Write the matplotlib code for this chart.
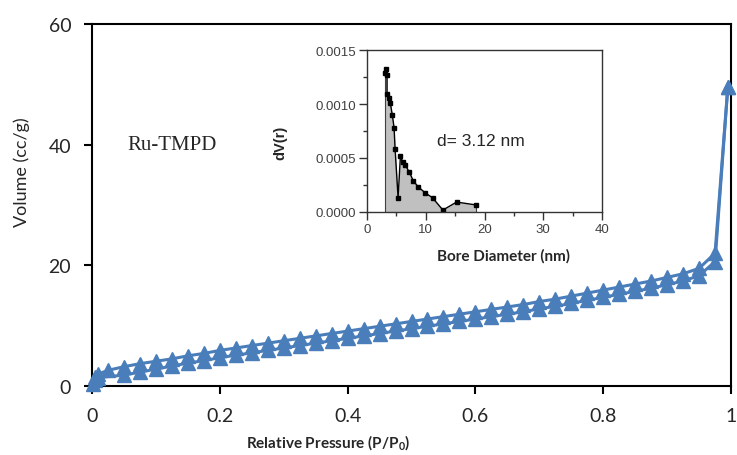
import matplotlib
matplotlib.use('Agg')
import matplotlib.pyplot as plt
from matplotlib.ticker import MultipleLocator

# ==== DATA ====

# isotherm, adsorption branch
p_ads = [0.001, 0.005, 0.01, 0.05, 0.075, 0.1, 0.125, 0.15, 0.175, 0.2,
         0.225, 0.25, 0.275, 0.3, 0.325, 0.35, 0.375, 0.4, 0.425, 0.45,
         0.475, 0.5, 0.525, 0.55, 0.575, 0.6, 0.625, 0.65, 0.675, 0.7,
         0.725, 0.75, 0.775, 0.8, 0.825, 0.85, 0.875, 0.9, 0.925, 0.95,
         0.975, 0.995]
v_ads = [0.3, 1.0, 1.4, 1.8, 2.3, 2.8, 3.3, 3.8, 4.2, 4.7,
         5.1, 5.5, 5.9, 6.3, 6.7, 7.1, 7.5, 7.9, 8.3, 8.7,
         9.1, 9.5, 9.9, 10.3, 10.7, 11.1, 11.5, 11.9, 12.3, 12.8,
         13.2, 13.7, 14.2, 14.7, 15.2, 15.7, 16.2, 16.8, 17.4, 18.3,
         20.6, 49.5]

# isotherm, desorption branch
p_des = [0.995, 0.975, 0.95, 0.925, 0.9, 0.875, 0.85, 0.825, 0.8, 0.775,
         0.75, 0.725, 0.7, 0.675, 0.65, 0.625, 0.6, 0.575, 0.55, 0.525,
         0.5, 0.475, 0.45, 0.425, 0.4, 0.375, 0.35, 0.325, 0.3, 0.275,
         0.25, 0.225, 0.2, 0.175, 0.15, 0.125, 0.1, 0.075, 0.05, 0.025,
         0.01, 0.005]
v_des = [49.5, 22.0, 19.5, 18.6, 18.0, 17.4, 16.9, 16.4, 15.9, 15.4,
         14.9, 14.4, 14.0, 13.5, 13.1, 12.7, 12.3, 11.9, 11.5, 11.1,
         10.7, 10.3, 9.9, 9.5, 9.1, 8.7, 8.3, 7.9, 7.5, 7.1,
         6.7, 6.3, 5.9, 5.4, 5.0, 4.5, 4.1, 3.7, 3.2, 2.6,
         2.0, 1.5]

# pore size distribution (inset)
d_nm = [3.07, 3.18, 3.41, 3.41, 3.75, 3.98, 4.32, 4.61, 4.78, 5.29,
        5.69, 6.09, 6.54, 7.23, 7.91, 8.76, 9.90, 11.15, 12.92, 15.25, 18.6]
dv = [0.001285, 0.00132, 0.00127, 0.001097, 0.00106, 0.001005, 0.000894,
      0.00078, 0.000587, 0.000132, 0.00052, 0.00046, 0.000433, 0.000366,
      0.000286, 0.00023, 0.000178, 0.000132, 0.000018, 0.000092, 0.000065]

blue = '#4a7ebb'
tick_col = '#262626'

# ==== PLOT ====

fig = plt.figure(figsize=(7.37, 4.56), dpi=100)
ax = fig.add_axes([92/737, 69/456, 639/737, 362/456])

ax.plot(p_ads, v_ads, color=blue, lw=2.2, marker='^', ms=9.5, clip_on=False, zorder=3)
ax.plot(p_des, v_des, color=blue, lw=2.2, marker='^', ms=9.5, clip_on=False, zorder=3)

ax.set_xlim(0, 1)
ax.set_ylim(0, 60)
ax.set_xticks([0, 0.2, 0.4, 0.6, 0.8, 1])
ax.set_xticklabels(['0', '0.2', '0.4', '0.6', '0.8', '1'])
ax.set_yticks([0, 20, 40, 60])
for s in ax.spines.values():
  s.set_linewidth(1.5)
  s.set_color('black')
ax.tick_params(direction='out', length=6, width=1.5, pad=9, labelsize=14,
               labelcolor=tick_col)
for lab in ax.get_xticklabels() + ax.get_yticklabels():
  lab.set_family('Lato')

ax.set_xlabel('Relative Pressure (P/P$_\\mathregular{0}$)', fontsize=11,
              fontweight='bold', family='Lato', color=tick_col)
ax.xaxis.set_label_coords(0.37, -0.128)
ax.set_ylabel('Volume (cc/g)', fontsize=13, family='Lato', color=tick_col)
ax.yaxis.set_label_coords(-0.097, 0.594)

ax.text(0.056, 40.1, 'Ru-TMPD', family='Liberation Serif', fontsize=15,
        va='center', ha='left', color=tick_col)

# inset
ins = fig.add_axes([367/737, 243/456, 235/737, 162/456])
ins.fill_between(d_nm, dv, 0, color='#c0c0c0', lw=0)
ins.vlines([d_nm[0], d_nm[-1]], 0, [dv[0], dv[-1]], color='#404040', lw=0.8)
ins.plot(d_nm, dv, color='black', lw=1.0, marker='s', ms=3.5)

ins.set_xlim(0, 40)
ins.set_ylim(0, 0.0015)
ins.set_xticks([0, 10, 20, 30, 40])
ins.set_yticks([0, 0.0005, 0.001, 0.0015])
ins.set_yticklabels(['0.0000', '0.0005', '0.0010', '0.0015'])
ins.xaxis.set_minor_locator(MultipleLocator(5))
ins.yaxis.set_minor_locator(MultipleLocator(0.00025))
for s in ins.spines.values():
  s.set_linewidth(1.0)
  s.set_color('#333333')
ins.tick_params(which='major', direction='out', length=6, width=1.0, pad=2,
                labelsize=9.5, labelcolor='#404040', color='#333333')
ins.tick_params(which='minor', direction='out', length=3, width=1.0, color='#333333')
for lab in ins.get_xticklabels() + ins.get_yticklabels():
  lab.set_family('Liberation Sans')

ins.set_xlabel('Bore Diameter (nm)', fontsize=11, fontweight='bold', family='Lato',
               color=tick_col)
ins.xaxis.set_label_coords(0.58, -0.22)
ins.set_ylabel('dV(r)', fontsize=10.5, fontweight='bold', family='Liberation Sans',
               color=tick_col)
ins.yaxis.set_label_coords(-0.34, 0.43)
ins.text(11.9, 0.00066, 'd= 3.12 nm', family='Liberation Sans', fontsize=12.5,
         va='center', ha='left', color=tick_col)

fig.savefig('out.png', dpi=100)
